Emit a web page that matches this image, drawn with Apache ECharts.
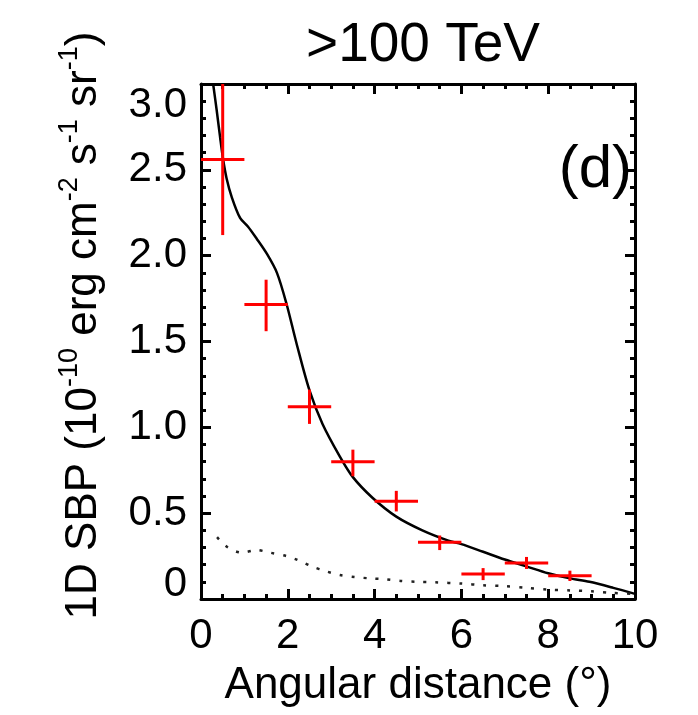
<!DOCTYPE html>
<html>
<head>
<meta charset="utf-8">
<script src="https://cdn.jsdelivr.net/npm/echarts@6/dist/echarts.min.js"></script>
<style>
html,body{margin:0;padding:0;background:#fff;}
#chart{width:698px;height:715px;}
</style>
</head>
<body>
<div id="chart"></div>
<script>
// ---- data ----
const binCenters   = [0.5, 1.5, 2.5, 3.5, 4.5, 5.5, 6.5, 7.5, 8.5];
const binHalfWidth = [0.5, 0.5, 0.5, 0.5, 0.5, 0.5, 0.5, 0.5, 0.5];
const sbpValues    = [2.56, 1.715, 1.12, 0.80, 0.57, 0.33, 0.145, 0.21, 0.135];
const sbpErrLow    = [2.12, 1.56, 1.02, 0.715, 0.51, 0.285, 0.11, 0.175, 0.105];
const sbpErrHigh   = [3.0, 1.86, 1.22, 0.87, 0.63, 0.37, 0.18, 0.245, 0.165];

const modelX = [0.28, 0.36, 0.44, 0.51, 0.59, 0.71, 0.9, 1.08, 1.28, 1.52, 1.75, 1.97, 2.2, 2.5, 2.8, 3.2, 3.5, 3.95, 4.5, 5.1, 5.7, 6.0, 6.5, 7.0, 7.5, 8.0, 8.5, 8.95, 9.5, 10];
const modelY = [3.0, 2.85, 2.69, 2.56, 2.45, 2.34, 2.22, 2.17, 2.10, 2.01, 1.90, 1.72, 1.49, 1.215, 1.02, 0.83, 0.71, 0.59, 0.48, 0.40, 0.34, 0.32, 0.275, 0.23, 0.19, 0.15, 0.12, 0.10, 0.065, 0.03];

const bgX = [0.37, 0.62, 0.94, 1.28, 1.59, 1.97, 2.23, 2.55, 2.9, 3.2, 3.54, 3.9, 4.25, 4.6, 4.97, 5.4, 6.0, 6.5, 7.0, 7.5, 8.0, 8.5, 9.0, 9.5, 10];
const bgY = [0.36, 0.30, 0.27, 0.285, 0.27, 0.25, 0.227, 0.19, 0.16, 0.14, 0.128, 0.12, 0.115, 0.105, 0.10, 0.097, 0.09, 0.08, 0.075, 0.065, 0.055, 0.05, 0.045, 0.035, 0.03];

const xTickValues = [0, 2, 4, 6, 8, 10];
const yTickLabels = ['0', '0.5', '1.0', '1.5', '2.0', '2.5', '3.0'];

const titleText = '>100 TeV';
const xName = 'Angular distance (°)';
const panelTag = '(d)';

// ---- chart ----
const FONT = '"Liberation Sans", Arial, Helvetica, sans-serif';
const chart = echarts.init(document.getElementById('chart'), null, {renderer: 'canvas'});

const axisCommon = {
  type: 'value',
  splitLine: {show: false},
  minorSplitLine: {show: false},
  axisLine: {show: true, onZero: false, lineStyle: {color: '#000', width: 3}},
  axisTick: {show: true, inside: true, length: 10, lineStyle: {color: '#000', width: 3}},
  minorTick: {show: true, length: 5, lineStyle: {color: '#000', width: 3}}
};

const xMin = xTickValues[0], xMax = xTickValues[xTickValues.length - 1];
const xInterval = xTickValues[1] - xTickValues[0];
const yMin = parseFloat(yTickLabels[0]), yMax = parseFloat(yTickLabels[yTickLabels.length - 1]);
const yInterval = parseFloat(yTickLabels[1]) - yMin;

const crossData = binCenters.map((x, i) => [x, sbpValues[i], x - binHalfWidth[i], x + binHalfWidth[i], sbpErrLow[i], sbpErrHigh[i]]);

const option = {
  animation: false,
  backgroundColor: '#ffffff',
  title: {
    text: titleText, left: 418, top: 13, textAlign: 'center',
    textStyle: {fontFamily: FONT, fontSize: 55, fontWeight: 'normal', color: '#000'}
  },
  grid: {left: 201, right: 63, top: 84, bottom: 116, containLabel: false},
  xAxis: [
    Object.assign({}, axisCommon, {
      position: 'bottom', min: xMin, max: xMax, interval: xInterval,
      minorTick: Object.assign({}, axisCommon.minorTick, {splitNumber: 4}),
      name: xName, nameLocation: 'middle', nameGap: 65,
      nameTextStyle: {fontFamily: FONT, fontSize: 44, color: '#000'},
      axisLabel: {show: true, fontFamily: FONT, fontSize: 42, color: '#000', margin: 16}
    }),
    Object.assign({}, axisCommon, {
      position: 'top', min: xMin, max: xMax, interval: xInterval,
      minorTick: Object.assign({}, axisCommon.minorTick, {splitNumber: 4}),
      axisLabel: {show: false}
    })
  ],
  yAxis: [
    Object.assign({}, axisCommon, {
      position: 'left', min: yMin, max: yMax, interval: yInterval,
      minorTick: Object.assign({}, axisCommon.minorTick, {splitNumber: 5}),
      name: '{n|1D SBP (10}{s|-10}{n| erg cm}{s|-2}{n| s}{s|-1}{n| sr}{s|-1}{n|)}',
      nameLocation: 'middle', nameRotate: 90, nameGap: 89,
      nameTextStyle: {
        fontFamily: FONT, fontSize: 44, color: '#000', padding: [0, 0, 0, 32],
        rich: {
          n: {fontFamily: FONT, fontSize: 44, color: '#000', lineHeight: 56},
          s: {fontFamily: FONT, fontSize: 27, color: '#000', lineHeight: 26, verticalAlign: 'top'}
        }
      },
      axisLabel: {
        show: true, fontFamily: FONT, fontSize: 42, color: '#000', margin: 14,
        verticalAlignMinLabel: 'bottom', verticalAlignMaxLabel: 'top',
        formatter: function (v) {
          const idx = Math.round((v - yMin) / yInterval);
          const t = yTickLabels[idx] !== undefined ? yTickLabels[idx] : '';
          return idx === 0 ? '{z|' + t + '}' : t;
        },
        rich: {
          z: {fontFamily: FONT, fontSize: 42, color: '#000', lineHeight: 30}
        }
      }
    }),
    Object.assign({}, axisCommon, {
      position: 'right', min: yMin, max: yMax, interval: yInterval,
      minorTick: Object.assign({}, axisCommon.minorTick, {splitNumber: 5}),
      axisLabel: {show: false}
    })
  ],
  graphic: [{
    type: 'text', x: 632, y: 170, z: 100,
    style: {text: panelTag, fontFamily: FONT, fontSize: 60, fill: '#000', textAlign: 'right', textVerticalAlign: 'middle'}
  }],
  series: [
    {
      type: 'line', name: 'model', xAxisIndex: 0, yAxisIndex: 0,
      data: modelX.map((x, i) => [x, modelY[i]]),
      showSymbol: false, smooth: 0.3, clip: true,
      lineStyle: {color: '#000', width: 2.5}, z: 3
    },
    {
      type: 'line', name: 'background', xAxisIndex: 0, yAxisIndex: 0,
      data: bgX.map((x, i) => [x, bgY[i]]),
      showSymbol: false, smooth: 0.3, clip: true,
      lineStyle: {color: '#222', width: 2.5, type: [3, 9]}, z: 3
    },
    {
      type: 'custom', name: 'data', xAxisIndex: 0, yAxisIndex: 0,
      data: crossData, clip: true, z: 4,
      encode: {x: [0, 2, 3], y: [1, 4, 5]},
      renderItem: function (params, api) {
        const c = api.coord([api.value(0), api.value(1)]);
        const l = api.coord([api.value(2), api.value(1)]);
        const r = api.coord([api.value(3), api.value(1)]);
        const b = api.coord([api.value(0), api.value(4)]);
        const t = api.coord([api.value(0), api.value(5)]);
        const st = {stroke: '#ff0000', lineWidth: 3};
        return {
          type: 'group',
          children: [
            {type: 'line', shape: {x1: l[0], y1: c[1], x2: r[0], y2: c[1]}, style: st},
            {type: 'line', shape: {x1: c[0], y1: b[1], x2: c[0], y2: t[1]}, style: st}
          ]
        };
      }
    }
  ]
};
chart.setOption(option);
</script>
</body>
</html>
